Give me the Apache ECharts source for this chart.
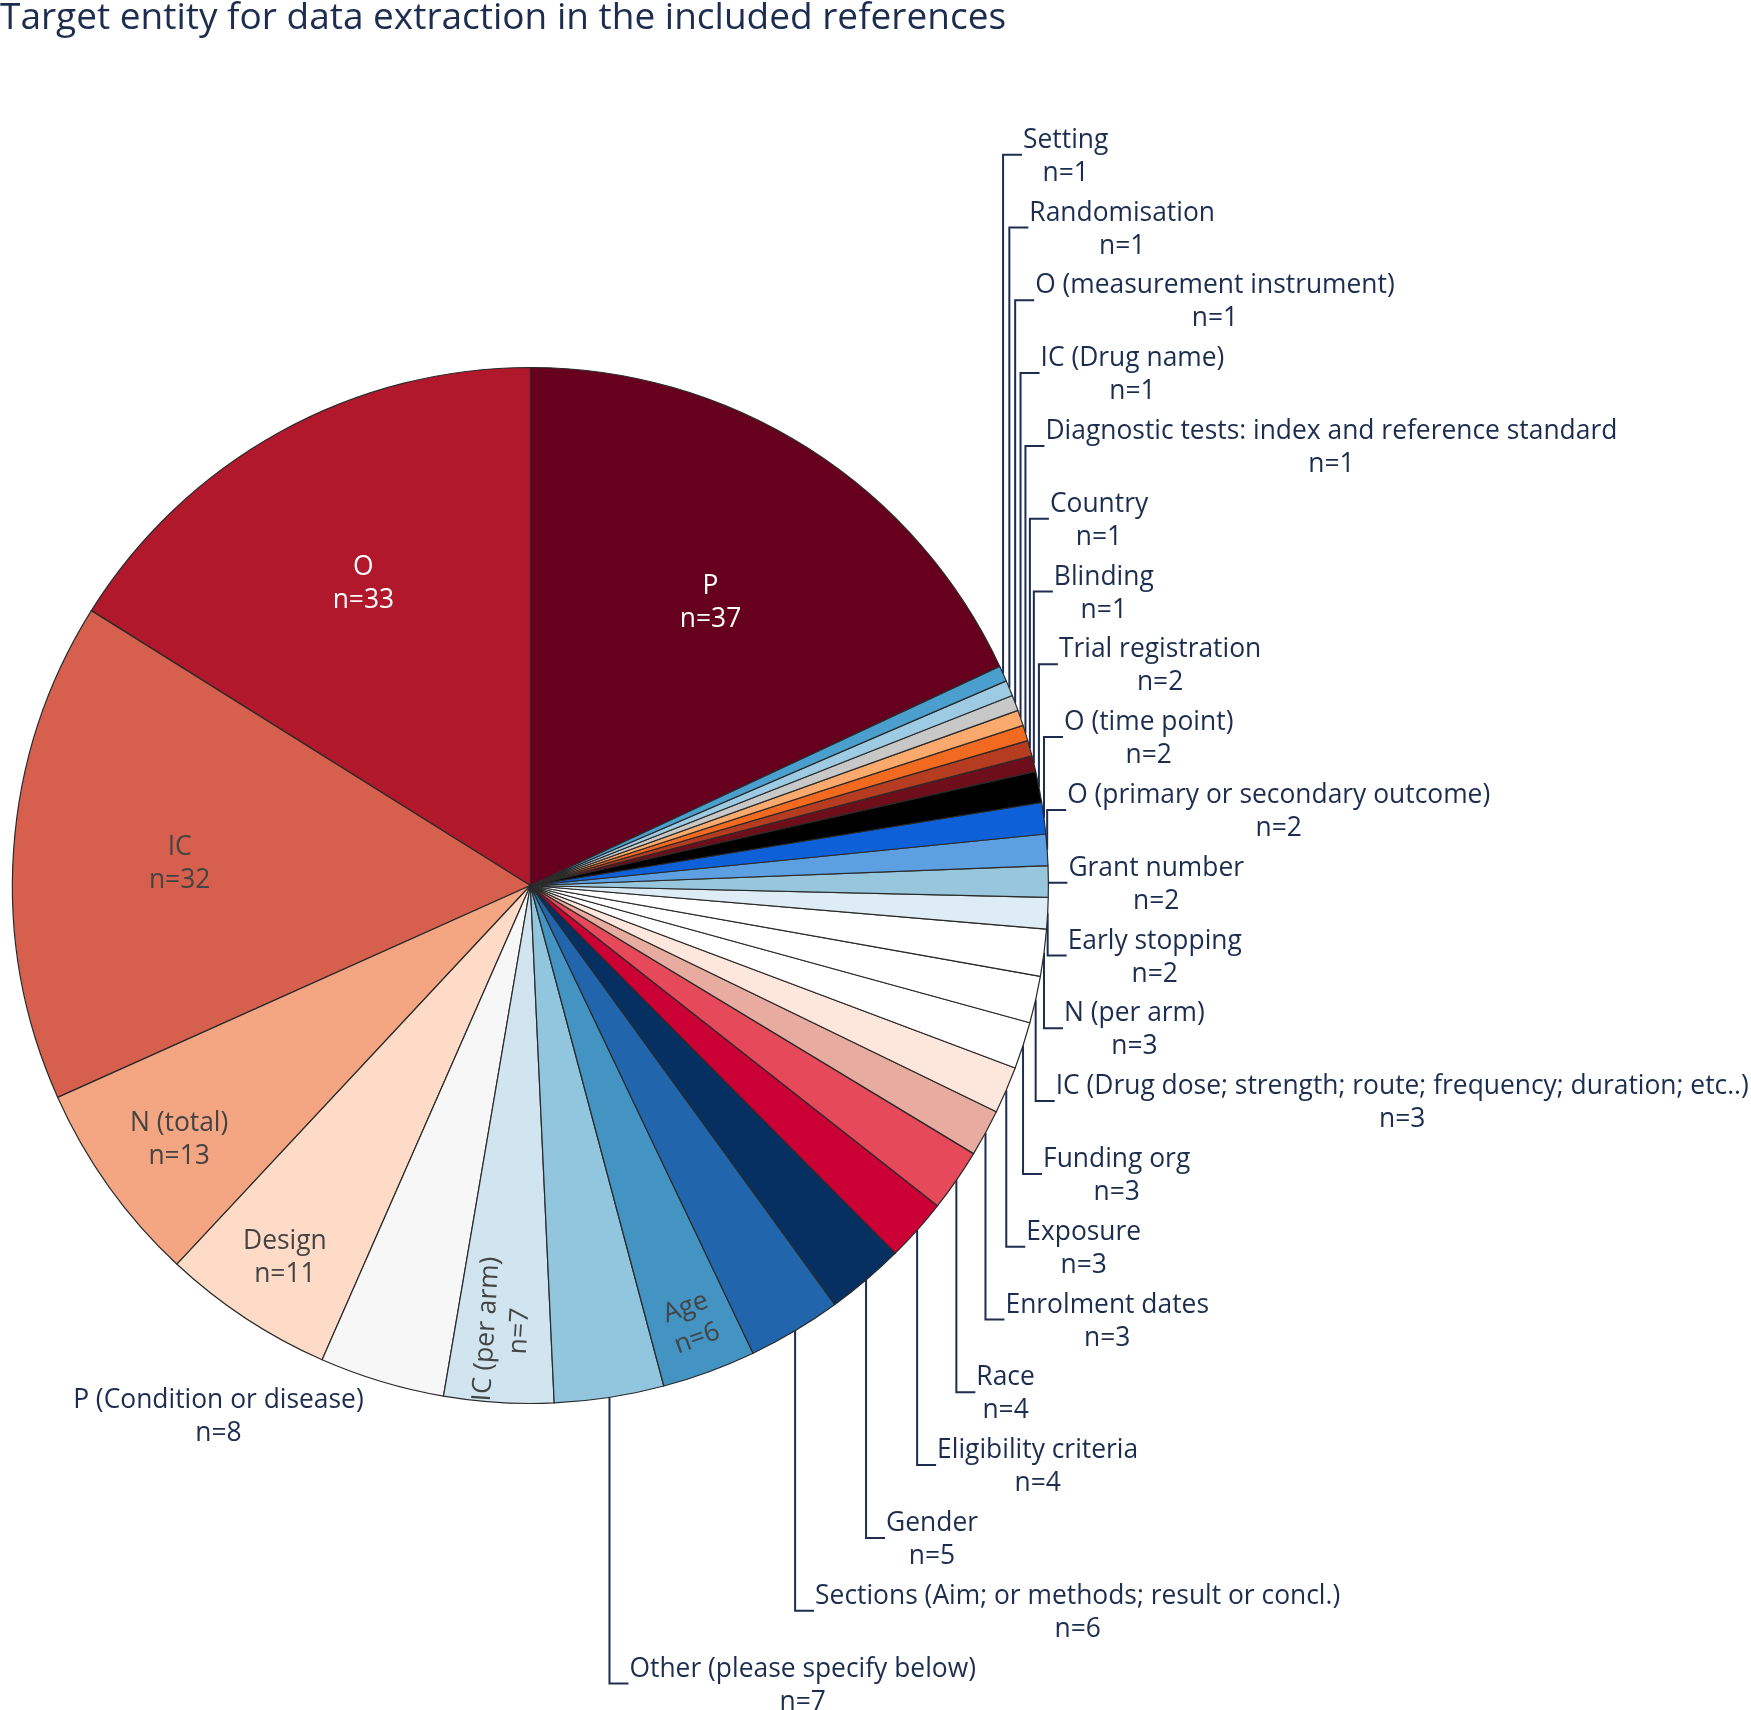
<!DOCTYPE html>
<html><head><meta charset="utf-8">
<script src="https://cdn.jsdelivr.net/npm/echarts@6/dist/echarts.min.js"></script>
<style>html,body{margin:0;padding:0;background:#fff}#c{width:1751px;height:1710px}</style>
</head><body><div id="c"></div>
<script>
const titleText = 'Target entity for data extraction in the included references';
const categories = ['P','O','IC','N (total)','Design','P (Condition or disease)','IC (per arm)',
  'Other (please specify below)','Age','Sections (Aim; or methods; result or concl.)','Gender',
  'Eligibility criteria','Race','Enrolment dates','Exposure','Funding org',
  'IC (Drug dose; strength; route; frequency; duration; etc..)','N (per arm)','Early stopping',
  'Grant number','O (primary or secondary outcome)','O (time point)','Trial registration',
  'Blinding','Country','Diagnostic tests: index and reference standard','IC (Drug name)',
  'O (measurement instrument)','Randomisation','Setting'];
const counts = [37,33,32,13,11,8,7,7,6,6,5,4,4,3,3,3,3,3,2,2,2,2,2,1,1,1,1,1,1,1];
const sliceColors = ['#67001f','#b2182b','#d6604d','#f4a582','#fddbc7','#f7f7f7','#d1e5f0',
  '#92c5de','#4393c3','#2166ac','#053061','#cb0035','#e6495a','#e8ab9f','#fde7dc','#ffffff',
  '#ffffff','#ffffff','#deedf5','#97c6dd','#5ca0e2','#0d60d8','#000000','#6e0e1a','#b53c20',
  '#f26a1f','#fca96d','#c8c8c8','#9ccbe3','#4a9fcf'];
const insideNames = ['P','O','IC','N (total)','Design','IC (per arm)','Age'];
const leftNames = ['P (Condition or disease)'];

// layout / style settings
const NAVY = '#1c2d4f';
const CX = 530.4, CY = 885.5, R = 518;
const FONT = "'Open Sans', 'Noto Sans', sans-serif";
const insideFrac = {'P':0.64,'O':0.658,'IC':0.671,'N (total)':0.824,'Design':0.852,'IC (per arm)':0.85,'Age':0.89};
const insideDy = {'IC':3,'N (total)':3};
const insideRotate = {'IC (per arm)':'radial','Age':'tangential'};
const whiteText = ['P','O'];
const LABEL_TOP = 154.7, LABEL_PITCH = 72.8, LABEL_GAP = 20, LABEL_DY = 2;

const total = counts.reduce((a,b)=>a+b,0);
const startAngle = 90 - 360*counts[0]/total;
const rightList = categories.map((n,i)=>i).filter(i => insideNames.indexOf(categories[i])<0 && leftNames.indexOf(categories[i])<0).reverse();

function anchorOf(i){
  let cum = 0; for (let j=0;j<i;j++) cum += counts[j];
  const midMath = (startAngle + 360*(cum + counts[i]/2)/total) * Math.PI/180;
  return [CX + R*Math.cos(midMath), CY - R*Math.sin(midMath)];
}

const data = categories.map((name,i) => {
  const item = {name, value: counts[i], itemStyle:{color: sliceColors[i]}};
  if (insideNames.indexOf(name) >= 0) {
    item.label = {position:'inside', color: whiteText.indexOf(name)>=0 ? '#ffffff' : '#444444'};
    if (insideRotate[name]) item.label.rotate = insideRotate[name];
    item.labelLine = {show:false};
  }
  return item;
});

const chart = echarts.init(document.getElementById('c'), null, {renderer:'canvas'});
chart.setOption({
  animation:false,
  backgroundColor:'#ffffff',
  title:{text:titleText, left:0, top:0, padding:0,
    textStyle:{fontFamily:FONT, fontSize:37, fontWeight:'normal', color:NAVY}},
  series:[{
    type:'pie', center:[CX,CY], radius:[0,R], clockwise:false, startAngle:startAngle,
    avoidLabelOverlap:false, silent:true, minAngle:0,
    itemStyle:{borderColor:'#2a2a2a', borderWidth:1.2},
    label:{show:true, position:'outside', formatter:'{b}\nn={c}', fontFamily:FONT,
      fontSize:26.4, lineHeight:33, color:NAVY, align:'center'},
    labelLine:{show:true, length:10, length2:10, lineStyle:{color:NAVY, width:2}},
    emphasis:{disabled:true},
    data:data,
    labelLayout:function(p){
      const i = p.dataIndex, name = categories[i], rect = p.labelRect;
      if (insideNames.indexOf(name) >= 0) {
        const lx = rect.x + rect.width/2, ly = rect.y + rect.height/2;
        const s = insideFrac[name]/0.5;
        return {x: CX + (lx-CX)*s, y: CY + (ly-CY)*s + (insideDy[name] || 0)};
      }
      const a = (p.labelLinePoints && p.labelLinePoints[0]) ? p.labelLinePoints[0] : anchorOf(i);
      const ax = a[0], ay = a[1];
      if (leftNames.indexOf(name) >= 0) {
        return {x: ax - 18 - rect.width/2, y: ay + rect.height/2 + LABEL_DY, align:'center', verticalAlign:'middle',
          labelLinePoints:[[ax,ay],[ax,ay],[ax,ay]]};
      }
      const k = rightList.indexOf(i);
      const ly = LABEL_TOP + k*LABEL_PITCH;
      const lx = ax + LABEL_GAP;
      return {x: lx + rect.width/2, y: ly + LABEL_DY, align:'center', verticalAlign:'middle',
        labelLinePoints:[[ax,ay],[ax,ly],[lx-1,ly]]};
    }
  }]
});
</script></body></html>
